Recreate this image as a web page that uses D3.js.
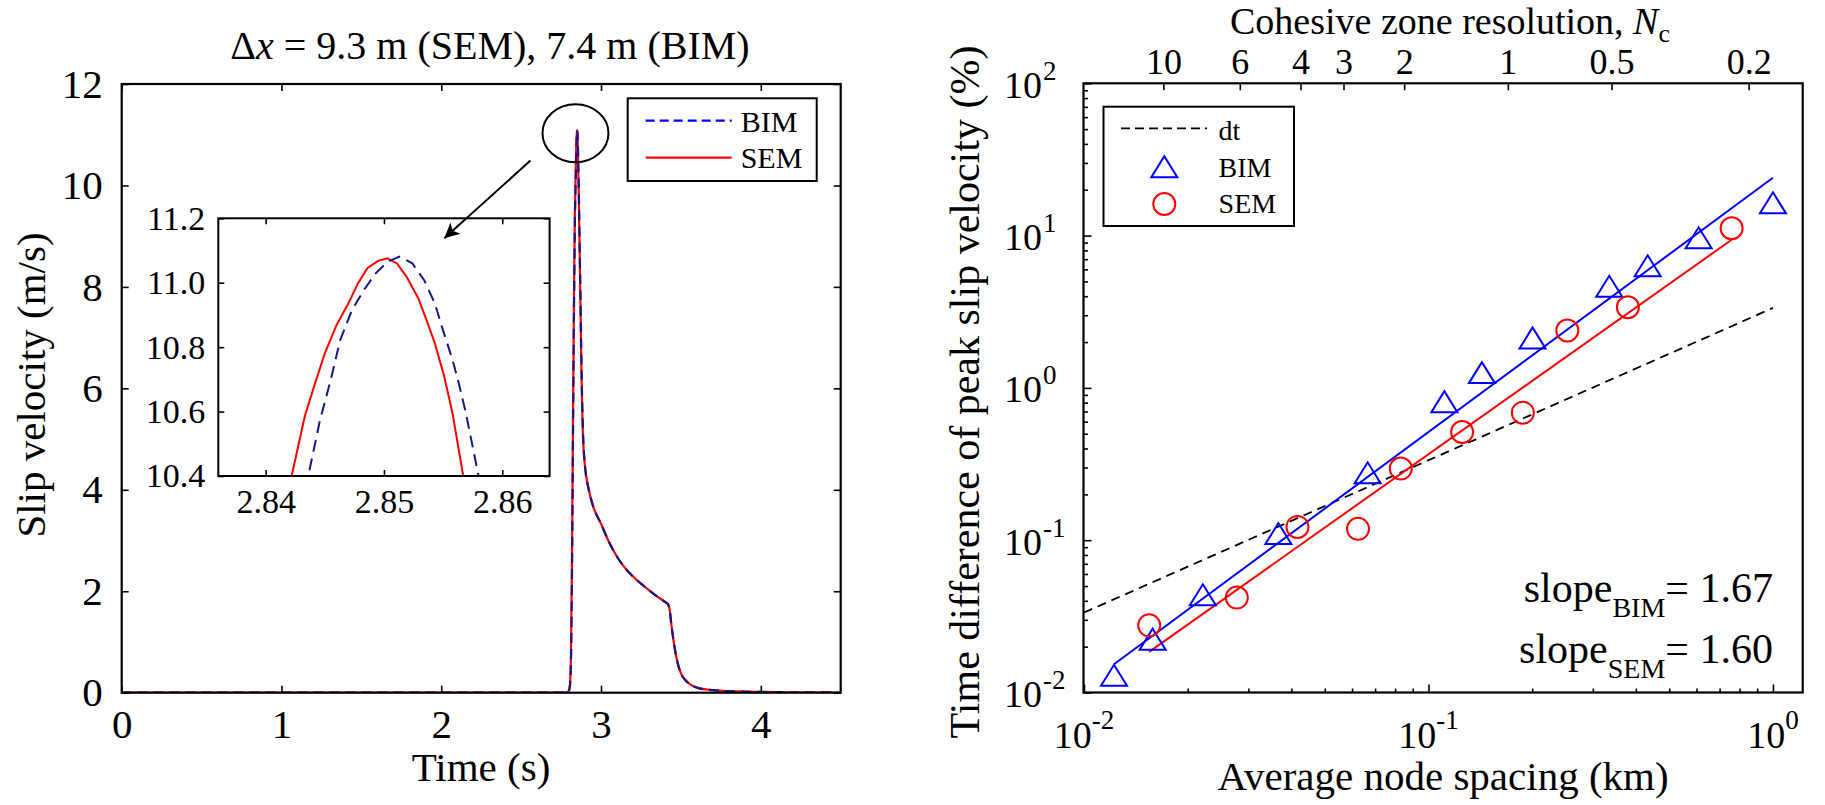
<!DOCTYPE html>
<html>
<head>
<meta charset="utf-8">
<script src="https://cdn.jsdelivr.net/npm/d3@7"></script>
<style>
  body { margin: 0; background: #fff; }
  svg { display: block; }
</style>
</head>
<body>
<svg id="fig" width="1825" height="805"></svg>
<script>
// ---------------- Data ----------------
// Slip velocity history at the monitoring point, spectral element method (SEM)
const semTime = [0, 2.78, 2.795, 2.805, 2.812, 2.818, 2.824, 2.830, 2.836, 2.8422, 2.8433, 2.8440, 2.8450, 2.8460,
  2.8470, 2.8478, 2.8486, 2.8495, 2.8503, 2.8511, 2.8519, 2.8529, 2.8536, 2.8543, 2.8551, 2.8558, 2.8567, 2.860,
  2.864, 2.870, 2.875, 2.880, 2.885, 2.890, 2.900, 2.920, 2.950, 3.000, 3.050, 3.100, 3.150, 3.200, 3.250, 3.300,
  3.350, 3.400, 3.420, 3.430, 3.440, 3.460, 3.480, 3.500, 3.530, 3.560, 3.600, 3.700, 3.800, 4.000, 4.200, 4.500];
const semSlipRate = [0, 0, 0.02, 0.15, 0.8, 2.6, 5.2, 7.6, 9.4, 10.40, 10.584, 10.667, 10.781, 10.869,
  10.936, 10.998, 11.045, 11.068, 11.076, 11.060, 11.019, 10.952, 10.884, 10.812, 10.708, 10.594, 10.40, 9.95,
  9.10, 7.90, 6.80, 5.90, 5.25, 4.85, 4.45, 4.05, 3.68, 3.33, 2.97, 2.68, 2.46, 2.29, 2.15, 2.02,
  1.90, 1.79, 1.74, 1.62, 1.35, 0.90, 0.58, 0.38, 0.24, 0.16, 0.10, 0.05, 0.03, 0.015, 0.008, 0.004];

// Slip velocity history at the monitoring point, boundary integral method (BIM)
const bimTime = [0, 2.78, 2.796, 2.806, 2.813, 2.819, 2.825, 2.831, 2.837, 2.8436, 2.8446, 2.8455, 2.8463, 2.8473,
  2.8483, 2.8493, 2.8503, 2.8513, 2.8524, 2.8534, 2.8543, 2.8549, 2.8558, 2.8564, 2.8569, 2.8580, 2.861,
  2.865, 2.871, 2.876, 2.881, 2.886, 2.891, 2.900, 2.920, 2.950, 3.000, 3.050, 3.100, 3.150, 3.200, 3.250, 3.300,
  3.350, 3.400, 3.420, 3.430, 3.440, 3.460, 3.480, 3.500, 3.530, 3.560, 3.600, 3.700, 3.800, 4.000, 4.200, 4.500];
const bimSlipRate = [0, 0, 0.02, 0.15, 0.8, 2.6, 5.2, 7.6, 9.4, 10.40, 10.574, 10.698, 10.822, 10.915,
  10.977, 11.029, 11.065, 11.081, 11.060, 11.008, 10.936, 10.863, 10.760, 10.677, 10.599, 10.40, 9.95,
  9.10, 7.90, 6.80, 5.90, 5.25, 4.85, 4.45, 4.05, 3.68, 3.33, 2.97, 2.68, 2.46, 2.29, 2.15, 2.02,
  1.90, 1.79, 1.74, 1.62, 1.35, 0.90, 0.58, 0.38, 0.24, 0.16, 0.10, 0.05, 0.03, 0.015, 0.008, 0.004];

const timeTicks = [0, 1, 2, 3, 4];
const slipTicks = [0, 2, 4, 6, 8, 10, 12];
const zoomTimeTicks = [2.84, 2.85, 2.86];
const zoomSlipTicks = [10.4, 10.6, 10.8, 11.0, 11.2];

// Time difference of peak slip velocity (%) versus average node spacing (km)
const bimSpacing = [0.01222, 0.01582, 0.02213, 0.03666, 0.0666, 0.1112, 0.1429, 0.2005, 0.3348, 0.4328, 0.6085, 1.0];
const bimTimeDiff = [0.01297, 0.02237, 0.04378, 0.1106, 0.2771, 0.8121, 1.26, 2.128, 4.645, 6.33, 9.67, 16.41];
const semSpacing = [0.01546, 0.02777, 0.04166, 0.06244, 0.0831, 0.1252, 0.1879, 0.2530, 0.3792, 0.7587];
const semTimeDiff = [0.02759, 0.04198, 0.1222, 0.1187, 0.2953, 0.5131, 0.6877, 2.382, 3.386, 11.17];

// Power-law fits  diff = prefactor * spacing^slope
const fitNames = ["BIM", "SEM"];
const fitSlopes = [1.67, 1.60];
const fitPrefactors = [24.0, 14.6];

// Reference line for the time step
const dtSpacing = [0.01, 1.0];
const dtTimeDiff = [0.0335, 3.35];

// Cohesive zone resolution N_c = cohesive zone length / node spacing
const cohesiveZoneLength = 0.17; // km
const cohesiveTicks = [10, 6, 4, 3, 2, 1, 0.5, 0.2];
const logMajorExponents = [-2, -1, 0, 1, 2];

// ---------------- Setup ----------------
const FONT = '"Liberation Serif","Times New Roman",Times,serif';
const BLUE = "#0000ff", NAVY = "#16168c", RED = "#ff0000";
const svg = d3.select("#fig").attr("font-family", FONT);
svg.append("rect").attr("width", 1825).attr("height", 805).attr("fill", "#fff");
const defs = svg.append("defs");

function clip(id, b) {
  defs.append("clipPath").attr("id", id).append("rect")
    .attr("x", b.left).attr("y", b.top).attr("width", b.right - b.left).attr("height", b.bottom - b.top);
}
function styleAxis(g, size) {
  g.attr("font-family", FONT).attr("font-size", size);
  g.select(".domain").remove();
  g.selectAll(".tick line").attr("stroke", "#000").attr("stroke-width", 1.6);
  g.selectAll(".tick text").attr("fill", "#000");
}
function frame(b, w) {
  svg.append("rect").attr("x", b.left).attr("y", b.top)
    .attr("width", b.right - b.left).attr("height", b.bottom - b.top)
    .attr("fill", "none").attr("stroke", "#000").attr("stroke-width", w);
}

// ---------------- Left panel: slip velocity ----------------
const L = { left: 121.7, right: 840.7, top: 84, bottom: 692.7 };
const xL = d3.scaleLinear().domain([0, 4.5]).range([L.left, L.right]);
const yL = d3.scaleLinear().domain([0, 12]).range([L.bottom, L.top]);
clip("clipL", L);

const semPts = d3.zip(semTime, semSlipRate);
const bimPts = d3.zip(bimTime, bimSlipRate);

const lineL = d3.line().x(d => xL(d[0])).y(d => yL(d[1])).curve(d3.curveMonotoneX);
const gL = svg.append("g").attr("clip-path", "url(#clipL)");
gL.append("path").datum(semPts).attr("d", lineL)
  .attr("fill", "none").attr("stroke", RED).attr("stroke-width", 2.2);
gL.append("path").datum(bimPts).attr("d", lineL)
  .attr("fill", "none").attr("stroke", NAVY).attr("stroke-width", 2.2).attr("stroke-dasharray", "10,6");

svg.append("g").attr("transform", `translate(0,${L.bottom})`)
  .call(d3.axisBottom(xL).tickValues(timeTicks).tickSize(-7).tickSizeOuter(0).tickPadding(16).tickFormat(d3.format("d")))
  .call(styleAxis, 41);
svg.append("g").attr("transform", `translate(0,${L.top})`)
  .call(d3.axisTop(xL).tickValues(timeTicks).tickSize(-7).tickSizeOuter(0).tickFormat(""))
  .call(styleAxis, 41);
svg.append("g").attr("transform", `translate(${L.left},0)`)
  .call(d3.axisLeft(yL).tickValues(slipTicks).tickSize(-7).tickSizeOuter(0).tickPadding(19).tickFormat(d3.format("d")))
  .call(styleAxis, 41);
svg.append("g").attr("transform", `translate(${L.right},0)`)
  .call(d3.axisRight(yL).tickValues(slipTicks).tickSize(-7).tickSizeOuter(0).tickFormat(""))
  .call(styleAxis, 41);
frame(L, 2.2);

// title
const title = svg.append("text").attr("x", 490).attr("y", 59).attr("text-anchor", "middle").attr("font-size", 40);
title.append("tspan").text("Δ");
title.append("tspan").attr("font-style", "italic").text("x");
title.append("tspan").text(" = 9.3 m (SEM), 7.4 m (BIM)");

svg.append("text").attr("x", 481).attr("y", 781).attr("text-anchor", "middle").attr("font-size", 41).text("Time (s)");
svg.append("text").attr("transform", "translate(45,385) rotate(-90)").attr("text-anchor", "middle")
  .attr("font-size", 41).text("Slip velocity (m/s)");

// legend
const legL = svg.append("g");
legL.append("rect").attr("x", 627.7).attr("y", 98.3).attr("width", 189).attr("height", 82.7)
  .attr("fill", "#fff").attr("stroke", "#000").attr("stroke-width", 2);
legL.append("line").attr("x1", 645.7).attr("x2", 731.7).attr("y1", 120.7).attr("y2", 120.7)
  .attr("stroke", BLUE).attr("stroke-width", 2.2).attr("stroke-dasharray", "9,5");
legL.append("line").attr("x1", 645.7).attr("x2", 731.7).attr("y1", 157.7).attr("y2", 157.7)
  .attr("stroke", RED).attr("stroke-width", 2.2);
legL.append("text").attr("x", 740.7).attr("y", 131.7).attr("font-size", 30).text("BIM");
legL.append("text").attr("x", 740.7).attr("y", 168.3).attr("font-size", 30).text("SEM");

// ---------------- Inset: zoom on the peak ----------------
const I = { left: 218.3, right: 549.6, top: 218.3, bottom: 476 };
const xI = d3.scaleLinear().domain([2.836, 2.864]).range([I.left, I.right]);
const yI = d3.scaleLinear().domain([10.4, 11.2]).range([I.bottom, I.top]);
clip("clipI", I);
svg.append("rect").attr("x", I.left).attr("y", I.top).attr("width", I.right - I.left)
  .attr("height", I.bottom - I.top).attr("fill", "#fff");
const lineI = d3.line().x(d => xI(d[0])).y(d => yI(d[1]));
const gI = svg.append("g").attr("clip-path", "url(#clipI)");
gI.append("path").datum(semPts).attr("d", lineI)
  .attr("fill", "none").attr("stroke", RED).attr("stroke-width", 2);
gI.append("path").datum(bimPts).attr("d", lineI)
  .attr("fill", "none").attr("stroke", NAVY).attr("stroke-width", 2).attr("stroke-dasharray", "12,7");

svg.append("g").attr("transform", `translate(0,${I.bottom})`)
  .call(d3.axisBottom(xI).tickValues(zoomTimeTicks).tickSize(-6).tickSizeOuter(0).tickPadding(13).tickFormat(d3.format(".2f")))
  .call(styleAxis, 34);
svg.append("g").attr("transform", `translate(0,${I.top})`)
  .call(d3.axisTop(xI).tickValues(zoomTimeTicks).tickSize(-6).tickSizeOuter(0).tickFormat(""))
  .call(styleAxis, 34);
svg.append("g").attr("transform", `translate(${I.left},0)`)
  .call(d3.axisLeft(yI).tickValues(zoomSlipTicks).tickSize(-6).tickSizeOuter(0).tickPadding(13).tickFormat(d3.format(".1f")))
  .call(styleAxis, 34);
svg.append("g").attr("transform", `translate(${I.right},0)`)
  .call(d3.axisRight(yI).tickValues(zoomSlipTicks).tickSize(-6).tickSizeOuter(0).tickFormat(""))
  .call(styleAxis, 34);
frame(I, 2);

// circle around the peak and arrow pointing into the zoomed view
svg.append("ellipse").attr("cx", xL(2.84)).attr("cy", yL(11.03)).attr("rx", 33).attr("ry", 29)
  .attr("fill", "none").attr("stroke", "#000").attr("stroke-width", 2);
defs.append("marker").attr("id", "arrowHead").attr("viewBox", "0 0 10 10").attr("refX", 10).attr("refY", 5)
  .attr("markerUnits", "userSpaceOnUse").attr("markerWidth", 19).attr("markerHeight", 15).attr("orient", "auto")
  .append("path").attr("d", "M0,0 L10,5 L0,10 L2.5,5 z").attr("fill", "#000");
svg.append("line").attr("x1", xL(2.558)).attr("y1", yL(10.49)).attr("x2", xL(2.019)).attr("y2", yL(8.96))
  .attr("stroke", "#000").attr("stroke-width", 2).attr("marker-end", "url(#arrowHead)");

// ---------------- Right panel: convergence ----------------
const R = { left: 1083.5, right: 1802.7, top: 83.3, bottom: 692.5 };
const xR = d3.scaleLog().domain([0.01, 1.22]).range([1084, R.right]);
const yR = d3.scaleLog().domain([0.01, 100]).range([R.bottom, R.top]);
const xNc = d3.scaleLog().domain([cohesiveZoneLength / 0.01, cohesiveZoneLength / 1.22]).range([1084, R.right]);
clip("clipR", R);

const isMajor = v => Math.abs(Math.log10(v) - Math.round(Math.log10(v))) < 1e-9;
const xTicksAll = xR.ticks().filter(v => v <= 1.0000001);
const yTicksAll = yR.ticks();

svg.append("g").attr("transform", `translate(0,${R.bottom})`)
  .call(d3.axisBottom(xR).tickValues(xTicksAll.filter(v => !isMajor(v))).tickSize(-4).tickSizeOuter(0).tickFormat(""))
  .call(styleAxis, 38);
svg.append("g").attr("transform", `translate(0,${R.bottom})`)
  .call(d3.axisBottom(xR).tickValues(xTicksAll.filter(isMajor)).tickSize(-8).tickSizeOuter(0).tickFormat(""))
  .call(styleAxis, 38);
svg.append("g").attr("transform", `translate(${R.left},0)`)
  .call(d3.axisLeft(yR).tickValues(yTicksAll.filter(v => !isMajor(v))).tickSize(-4.5).tickSizeOuter(0).tickFormat(""))
  .call(styleAxis, 38);
svg.append("g").attr("transform", `translate(${R.left},0)`)
  .call(d3.axisLeft(yR).tickValues(yTicksAll.filter(isMajor)).tickSize(-8).tickSizeOuter(0).tickFormat(""))
  .call(styleAxis, 38);
svg.append("g").attr("transform", `translate(0,${R.top})`)
  .call(d3.axisTop(xNc).tickValues(cohesiveTicks).tickSize(-7).tickSizeOuter(0).tickPadding(9.5).tickFormat(d => String(d)))
  .call(styleAxis, 36);

// power-of-ten tick labels
logMajorExponents.filter(e => e <= 0).forEach(e => {
  const t = svg.append("text").attr("x", xR(Math.pow(10, e))).attr("y", 748)
    .attr("text-anchor", "middle").attr("font-size", 38);
  t.append("tspan").text("10");
  t.append("tspan").attr("dy", -19).attr("font-size", 27).text(String(e));
});
logMajorExponents.forEach(e => {
  const yy = yR(Math.pow(10, e));
  svg.append("text").attr("x", 1042).attr("y", yy + 14.5).attr("text-anchor", "end").attr("font-size", 38).text("10");
  svg.append("text").attr("x", 1043).attr("y", yy - 3.5).attr("font-size", 27).text(String(e));
});

// data, fits and time-step reference
const gR = svg.append("g").attr("clip-path", "url(#clipR)");
const lineR = d3.line().x(d => xR(d[0])).y(d => yR(d[1]));
gR.append("path").datum(d3.zip(dtSpacing, dtTimeDiff)).attr("d", lineR)
  .attr("fill", "none").attr("stroke", "#000").attr("stroke-width", 1.8).attr("stroke-dasharray", "9,6");

const fitSpacing = [bimSpacing, semSpacing];
const fitColors = [BLUE, RED];
fitNames.forEach((name, i) => {
  const xs = d3.extent(fitSpacing[i]);
  const pts = xs.map(x => [x, fitPrefactors[i] * Math.pow(x, fitSlopes[i])]);
  gR.append("path").datum(pts).attr("d", lineR)
    .attr("fill", "none").attr("stroke", fitColors[i]).attr("stroke-width", 2);
});

const triangle = "M-13,10.5 L13,10.5 L0,-10.5 Z";
svg.append("g").selectAll("path").data(d3.zip(bimSpacing, bimTimeDiff)).join("path")
  .attr("transform", d => `translate(${xR(d[0])},${yR(d[1])})`).attr("d", triangle)
  .attr("fill", "none").attr("stroke", BLUE).attr("stroke-width", 2);
svg.append("g").selectAll("circle").data(d3.zip(semSpacing, semTimeDiff)).join("circle")
  .attr("cx", d => xR(d[0])).attr("cy", d => yR(d[1])).attr("r", 11)
  .attr("fill", "none").attr("stroke", RED).attr("stroke-width", 2);

frame(R, 2.2);

// legend
const legR = svg.append("g");
legR.append("rect").attr("x", 1103.5).attr("y", 106.7).attr("width", 190.5).attr("height", 119.3)
  .attr("fill", "#fff").attr("stroke", "#000").attr("stroke-width", 2);
legR.append("line").attr("x1", 1121).attr("x2", 1207).attr("y1", 128.3).attr("y2", 128.3)
  .attr("stroke", "#000").attr("stroke-width", 1.8).attr("stroke-dasharray", "9,5");
legR.append("path").attr("transform", "translate(1164.3,166.7)").attr("d", triangle)
  .attr("fill", "none").attr("stroke", BLUE).attr("stroke-width", 2);
legR.append("circle").attr("cx", 1164.3).attr("cy", 204).attr("r", 11)
  .attr("fill", "none").attr("stroke", RED).attr("stroke-width", 2);
legR.append("text").attr("x", 1218.6).attr("y", 140).attr("font-size", 28).text("dt");
legR.append("text").attr("x", 1218.6).attr("y", 176.7).attr("font-size", 28).text("BIM");
legR.append("text").attr("x", 1218.6).attr("y", 213.3).attr("font-size", 28).text("SEM");

// slope annotations
fitNames.forEach((name, i) => {
  const t = svg.append("text").attr("x", 1773).attr("y", 601.7 + i * 61.6)
    .attr("text-anchor", "end").attr("font-size", 42);
  t.append("tspan").text("slope");
  t.append("tspan").attr("dy", 15).attr("font-size", 28).text(name);
  t.append("tspan").attr("dy", -15).text("= " + fitSlopes[i].toFixed(2));
});

// axis titles
const topTitle = svg.append("text").attr("x", 1450).attr("y", 34).attr("text-anchor", "middle").attr("font-size", 38);
topTitle.append("tspan").text("Cohesive zone resolution, ");
topTitle.append("tspan").attr("font-style", "italic").text("N");
topTitle.append("tspan").attr("dy", 8).attr("font-size", 26).text("c");
svg.append("text").attr("x", 1443).attr("y", 790).attr("text-anchor", "middle").attr("font-size", 41)
  .text("Average node spacing (km)");
svg.append("text").attr("transform", "translate(979,392) rotate(-90)").attr("text-anchor", "middle")
  .attr("font-size", 42).text("Time difference of peak slip velocity (%)");
</script>
</body>
</html>
